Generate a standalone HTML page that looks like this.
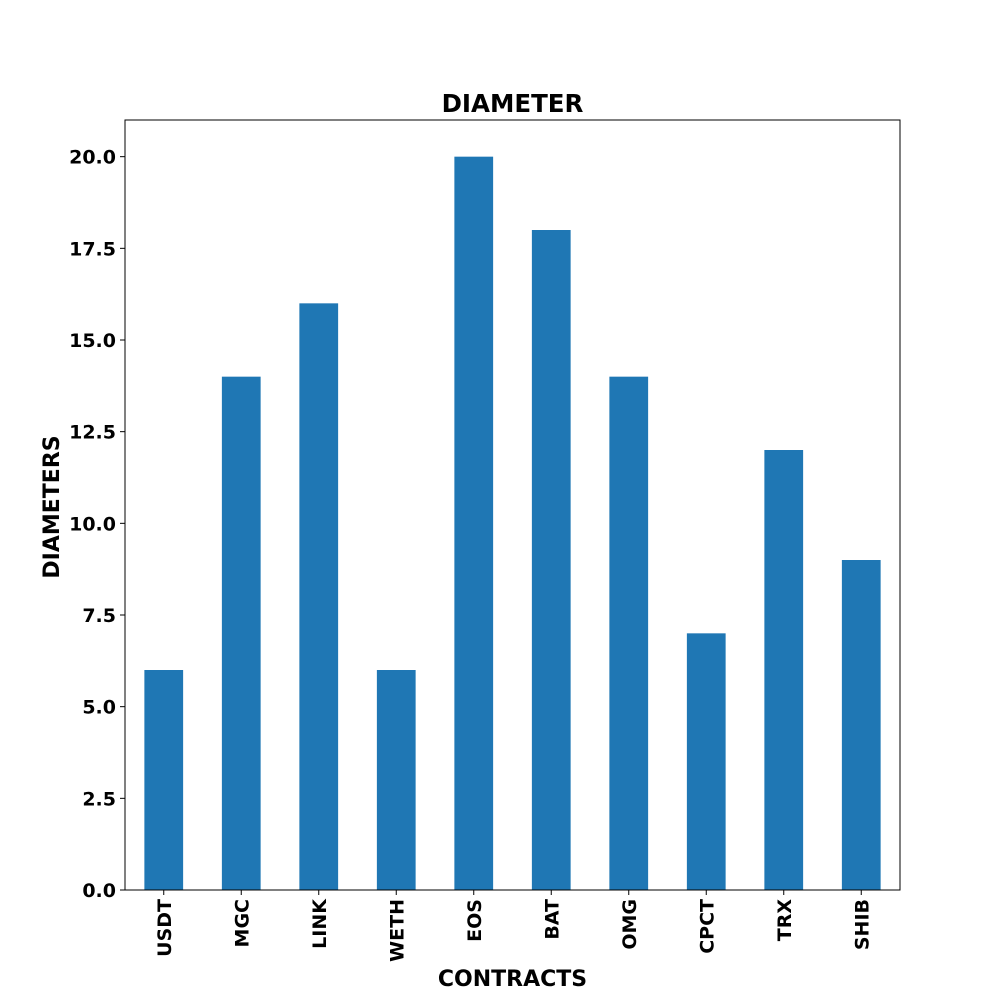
<!DOCTYPE html>
<html>
<head>
<meta charset="utf-8">
<style>
html,body{margin:0;padding:0;background:#fff;}
svg{display:block;font-family:"DejaVu Sans","Liberation Sans",sans-serif;}
</style>
</head>
<body>
<svg id="chart" width="1000" height="1000" viewBox="0 0 1000 1000" xmlns="http://www.w3.org/2000/svg"></svg>
<script>
const categories = ["USDT","MGC","LINK","WETH","EOS","BAT","OMG","CPCT","TRX","SHIB"];
const values = [6,14,16,6,20,18,14,7,12,9];
const yTicks = [0,2.5,5,7.5,10,12.5,15,17.5,20];
const yTickLabels = ["0.0","2.5","5.0","7.5","10.0","12.5","15.0","17.5","20.0"];

const NS = "http://www.w3.org/2000/svg";
const svg = document.getElementById('chart');
const L = 125, R = 900, T = 120, B = 890, yMax = 21;
const yScale = v => B - (v / yMax) * (B - T);
const step = (R - L) / categories.length;
const xCenter = i => L + step * (i + 0.5);
const barW = step * 0.5;

function mk(tag, attrs, text) {
  const e = document.createElementNS(NS, tag);
  for (const k in attrs) e.setAttribute(k, attrs[k]);
  if (text !== undefined) e.textContent = text;
  svg.appendChild(e);
  return e;
}

categories.forEach((c, i) => {
  const y = yScale(values[i]);
  const r = mk('rect', {x: xCenter(i) - barW / 2, y: y, width: barW, height: B - y, fill: '#1f77b4'});
  
  
  const tk = mk('line', {x1: xCenter(i), x2: xCenter(i), y1: B, y2: B + 5, stroke: '#000', 'stroke-width': 1});
  
  
  const lx = xCenter(i) + 7, ly = B + 9;
  const t = mk('text', {x: lx, y: ly, transform: `rotate(-90 ${lx} ${ly})`, 'text-anchor': 'end', 'font-size': 19, 'font-weight': 'bold'}, c);
  
  
});

yTicks.forEach((v, i) => {
  const y = yScale(v);
  const tk = mk('line', {x1: L - 5, x2: L, y1: y, y2: y, stroke: '#000', 'stroke-width': 1});
  
  
  const t = mk('text', {x: L - 9, y: y + 7, 'text-anchor': 'end', 'font-size': 19, 'font-weight': 'bold'}, yTickLabels[i]);
  
  
});

const frame = mk('rect', {x: L, y: T, width: R - L, height: B - T, fill: 'none', stroke: '#000', 'stroke-width': 1});



const title = mk('text', {x: (L + R) / 2, y: 112, 'text-anchor': 'middle', 'font-size': 24.5, 'font-weight': 'bold'}, 'DIAMETER');



const xt = mk('text', {x: (L + R) / 2, y: 986, 'text-anchor': 'middle', 'font-size': 22, 'font-weight': 'bold'}, 'CONTRACTS');



const yt = mk('text', {x: 59, y: (T + B) / 2 + 2, transform: `rotate(-90 59 ${(T + B) / 2 + 2})`, 'text-anchor': 'middle', 'font-size': 22, 'font-weight': 'bold'}, 'DIAMETERS');


</script>
</body>
</html>
